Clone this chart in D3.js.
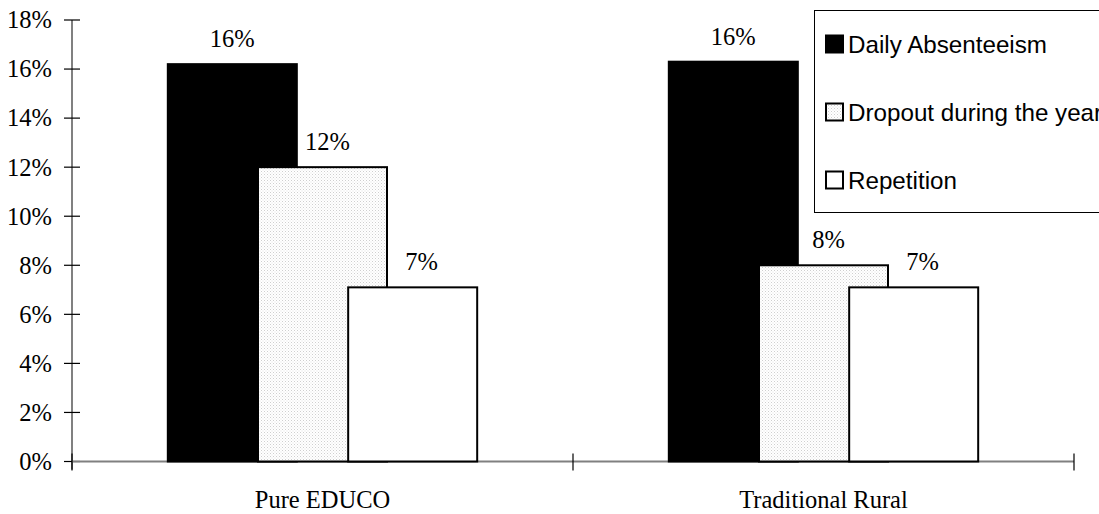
<!DOCTYPE html>
<html><head><meta charset="utf-8">
<script src="https://cdn.jsdelivr.net/npm/d3@7"></script>
<style>html,body{margin:0;padding:0;background:#fff;overflow:hidden}</style>
</head><body>
<svg id="chart" width="1099" height="514"></svg>
<script>
const categories = ["Pure EDUCO", "Traditional Rural"];
const seriesNames = ["Daily Absenteeism", "Dropout during the year", "Repetition"];
const dailyAbsenteeism = [16.2, 16.3];
const dropout = [12.0, 8.0];
const repetition = [7.1, 7.1];
const yTicks = [0, 2, 4, 6, 8, 10, 12, 14, 16, 18];
const labels = [["16%", "12%", "7%"], ["16%", "8%", "7%"]];

const seriesValues = [dailyAbsenteeism, dropout, repetition];
const svg = d3.select("#chart");
const serif = "'Liberation Serif', 'Times New Roman', serif";
const serifSize = 24.5;

const defs = svg.append("defs");
const pat = defs.append("pattern").attr("id", "dots").attr("patternUnits", "userSpaceOnUse")
  .attr("width", 3).attr("height", 3);
pat.append("rect").attr("width", 3).attr("height", 3).attr("fill", "#ffffff");
pat.append("rect").attr("x", 0).attr("y", 0).attr("width", 1).attr("height", 1).attr("fill", "#cfcfcf");
pat.append("rect").attr("x", 1.5).attr("y", 1.5).attr("width", 1).attr("height", 1).attr("fill", "#e2e2e2");

const fills = ["#000000", "url(#dots)", "#ffffff"];

const x = d3.scaleBand().domain(categories).range([72, 1074]).padding(0);
const y = d3.scaleLinear().domain([0, 18]).range([461.5, 20]);

// y axis labels
const yAxis = d3.axisLeft(y).tickValues(yTicks).tickFormat(d => d + "%").tickSize(0).tickPadding(20);
const gy = svg.append("g").attr("transform", "translate(72,0)").call(yAxis);
gy.select(".domain").remove();
gy.selectAll("text").attr("font-family", serif)
  .attr("font-size", serifSize).attr("fill", "#000");

svg.append("line").attr("x1", 72).attr("x2", 72).attr("y1", y(18)).attr("y2", y(0) + 8)
  .attr("stroke", "#808080").attr("stroke-width", 2);
svg.selectAll(".ytick").data(yTicks).enter().append("line")
  .attr("x1", 64).attr("x2", 80).attr("y1", d => y(d)).attr("y2", d => y(d))
  .attr("stroke", "#000").attr("stroke-width", 1.2);

// x axis line and ticks
svg.append("line").attr("x1", 72).attr("x2", 1074).attr("y1", y(0)).attr("y2", y(0))
  .attr("stroke", "#808080").attr("stroke-width", 2);
const xTickPos = [x(categories[0])].concat(categories.map(c => x(c) + x.bandwidth()));
svg.selectAll(".xtick").data(xTickPos).enter().append("line")
  .attr("x1", d => d).attr("x2", d => d).attr("y1", y(0) - 8).attr("y2", y(0) + 9)
  .attr("stroke", "#000").attr("stroke-width", 1.2);

svg.selectAll(".xlab").data(categories).enter().append("text")
  .attr("x", d => x(d) + x.bandwidth() / 2).attr("y", 508)
  .attr("text-anchor", "middle")
  .attr("font-family", serif)
  .attr("font-size", serifSize).text(d => d);

// bars
const bw = x.bandwidth();
const step = bw * 0.18;
const barW = bw * 0.2575;
const labelShift = [0, 5, 9];
categories.forEach((c, ci) => {
  const cx = x(c) + bw / 2;
  const g = svg.append("g");
  seriesValues.forEach((vals, si) => {
    const bx = cx + (si - 1) * step - barW / 2;
    g.append("rect").attr("x", bx).attr("y", y(vals[ci]))
      .attr("width", barW).attr("height", y(0) - y(vals[ci]))
      .attr("fill", fills[si]).attr("stroke", "#000").attr("stroke-width", 2);
  });
  seriesValues.forEach((vals, si) => {
    const bx = cx + (si - 1) * step;
    svg.append("text").attr("x", bx + labelShift[si]).attr("y", y(vals[ci]) - 17)
      .attr("text-anchor", "middle")
      .attr("font-family", serif)
      .attr("font-size", serifSize).text(labels[ci][si]);
  });
});

// legend
const lg = svg.append("g");
lg.append("rect").attr("x", 814.5).attr("y", 10.5).attr("width", 320).attr("height", 202)
  .attr("fill", "#fff").attr("stroke", "#000").attr("stroke-width", 1);
seriesNames.forEach((n, i) => {
  const cy = 44 + i * 68;
  lg.append("rect").attr("x", 826).attr("y", cy - 8.5).attr("width", 17).attr("height", 17)
    .attr("fill", fills[i]).attr("stroke", "#000").attr("stroke-width", 2);
  lg.append("text").attr("x", 848).attr("y", cy + 8.5)
    .attr("font-family", "'Liberation Sans', Arial, sans-serif")
    .attr("font-size", 24.2).text(n);
});
</script>
</body></html>
